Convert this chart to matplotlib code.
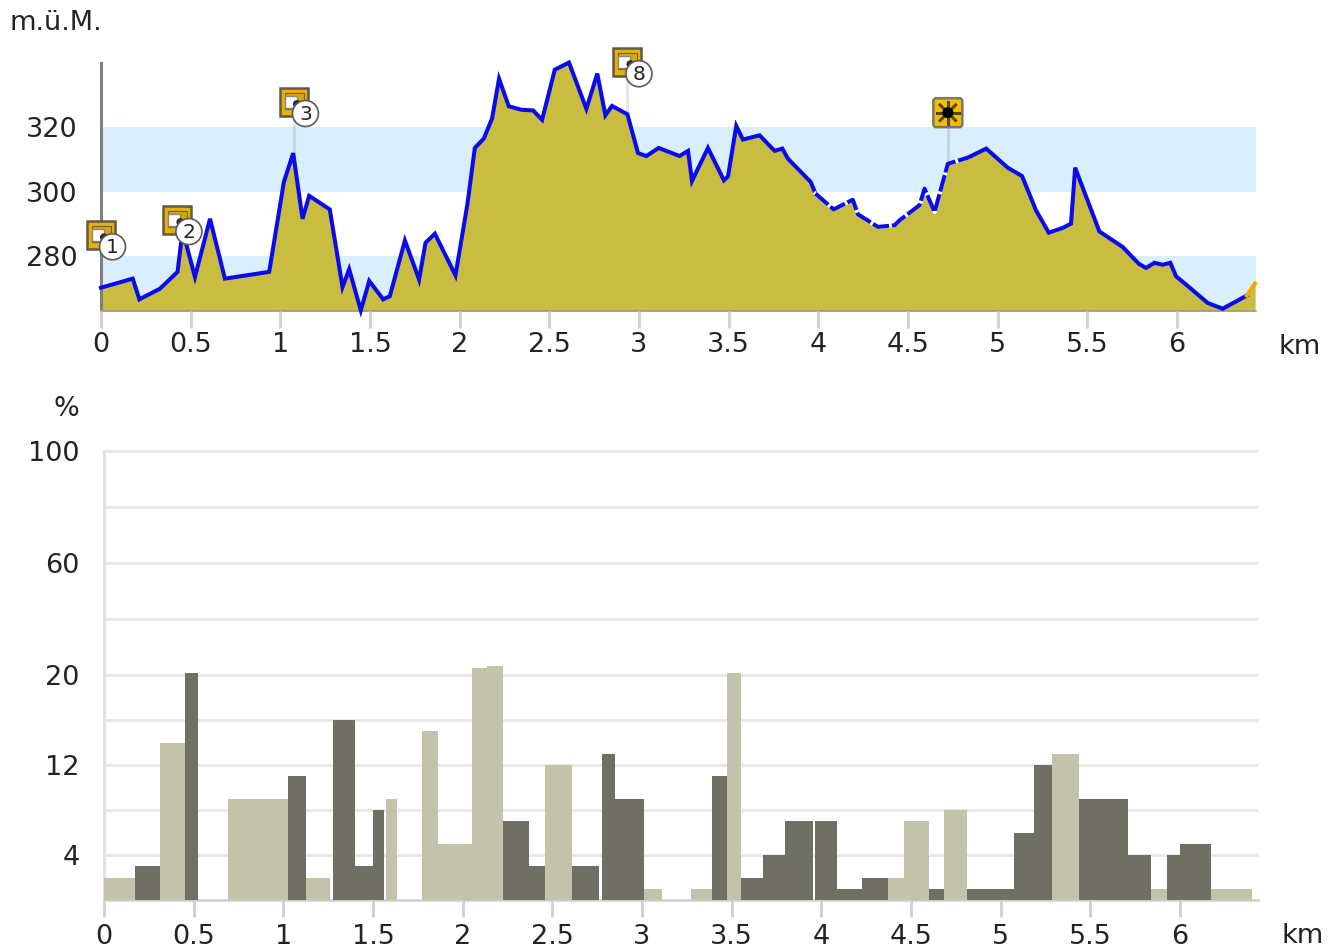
import numpy as np
import matplotlib
matplotlib.use('Agg')
import matplotlib.pyplot as plt
from matplotlib.patches import Rectangle, Circle, FancyBboxPatch
from matplotlib.transforms import IdentityTransform

# --------------------------------------------
# Data
# --------------------------------------------
profile_km = [0, 0.177, 0.214, 0.329, 0.427, 0.446, 0.455, 0.524, 0.608, 0.691, 0.938, 1.020, 1.072,
              1.124, 1.161, 1.276, 1.347, 1.384, 1.449, 1.496, 1.574, 1.611, 1.695, 1.774, 1.810,
              1.862, 1.977, 2.044, 2.085, 2.135, 2.181, 2.220, 2.274, 2.345, 2.410, 2.460, 2.531,
              2.610, 2.707, 2.768, 2.813, 2.850, 2.936, 2.995, 3.042, 3.110, 3.227, 3.274, 3.296,
              3.385, 3.474, 3.497, 3.543, 3.580, 3.673, 3.757, 3.800, 3.831, 3.958, 3.985, 4.086,
              4.193, 4.221, 4.333, 4.426, 4.453, 4.565, 4.593, 4.649, 4.723, 4.834, 4.937, 5.057,
              5.137, 5.215, 5.286, 5.364, 5.410, 5.433, 5.568, 5.698, 5.788, 5.828, 5.875, 5.921,
              5.964, 5.996, 6.051, 6.172, 6.256, 6.391, 6.436]
profile_m = [270.3, 273.1, 266.7, 270.0, 275.2, 283.9, 288.0, 273.6, 291.6, 273.1, 275.2, 303.0, 311.9,
             291.6, 298.7, 294.5, 270.5, 276.0, 263.3, 272.4, 266.7, 267.7, 284.9, 272.8, 284.2,
             287.0, 274.1, 296.3, 313.5, 316.4, 322.6, 334.9, 326.4, 325.3, 325.1, 322.2, 337.7,
             339.9, 325.6, 336.5, 323.6, 326.5, 323.9, 311.9, 311.0, 313.5, 311.0, 312.6, 303.3,
             313.5, 303.5, 304.7, 320.3, 316.1, 317.4, 312.6, 313.3, 310.2, 303.0, 299.4, 294.5,
             297.5, 293.0, 289.1, 289.6, 291.1, 295.8, 300.9, 293.7, 308.6, 310.5, 313.3, 307.4,
             304.8, 294.2, 287.3, 288.8, 290.1, 307.4, 287.7, 282.9, 277.7, 276.4, 278.0, 277.4,
             278.0, 273.8, 271.3, 265.6, 263.8, 267.9, 271.6]
dashed_from_km = 3.985
dashed_to_km = 4.834

km_ticks = [0, 0.5, 1, 1.5, 2, 2.5, 3, 3.5, 4, 4.5, 5, 5.5, 6]
km_labels = ['0', '0.5', '1', '1.5', '2', '2.5', '3', '3.5', '4', '4.5', '5', '5.5', '6']
elev_ticks = [280, 300, 320]
band_ranges = [(263.1, 280), (300, 320)]

photo_km = [0, 0.426, 1.076, 2.936]
photo_m = [286.5, 291.2, 327.7, 340.0]
photo_num = ['1', '2', '3', '8']
photo_stem_to = [None, None, 311.9, 323.9]
sun_km = 4.723
sun_m = 324.4
sun_stem_to = 308.6

bar_start = [0, 0.175, 0.312, 0.450, 0.690, 1.024, 1.125, 1.275, 1.400, 1.500, 1.575, 1.775, 1.863,
             2.051, 2.138, 2.223, 2.372, 2.461, 2.612, 2.776, 2.850, 3.012, 3.276, 3.389, 3.476,
             3.551, 3.675, 3.800, 3.964, 4.088, 4.226, 4.374, 4.464, 4.599, 4.687, 4.813, 5.075,
             5.187, 5.287, 5.438, 5.713, 5.838, 5.927, 6.001, 6.176]
bar_end = [0.175, 0.312, 0.450, 0.526, 1.024, 1.125, 1.260, 1.400, 1.500, 1.562, 1.636, 1.863, 2.051,
           2.138, 2.223, 2.372, 2.461, 2.612, 2.763, 2.850, 3.012, 3.112, 3.389, 3.476, 3.551,
           3.675, 3.800, 3.951, 4.088, 4.226, 4.374, 4.464, 4.599, 4.687, 4.813, 5.075, 5.187,
           5.287, 5.438, 5.713, 5.838, 5.927, 6.001, 6.176, 6.401]
bar_pct = [2, 3, 14, 20.8, 9, 11, 2, 16, 3, 8, 9, 15, 5,
           22.4, 23.2, 7, 3, 12, 3, 13, 9, 1, 1, 11, 20.8,
           2, 4, 7, 7, 1, 2, 2, 7, 1, 8, 1, 6,
           12, 13, 9, 4, 1, 4, 5, 1]
bar_kind = ['L', 'D', 'L', 'D', 'L', 'D', 'L', 'D', 'D', 'D', 'L', 'L', 'L',
            'L', 'L', 'D', 'D', 'L', 'D', 'D', 'D', 'L', 'L', 'D', 'L',
            'D', 'D', 'D', 'D', 'D', 'D', 'L', 'L', 'D', 'L', 'D', 'D',
            'D', 'L', 'D', 'D', 'L', 'D', 'D', 'L']
pct_major = [4, 12, 20, 60, 100]
pct_minor = [8, 16, 40, 80]

# --------------------------------------------
# Figure setup
# --------------------------------------------
W, H = 1338, 951
TEXT = '#232323'
plt.rcParams['font.family'] = 'DejaVu Sans'
plt.rcParams['font.size'] = 19.5

fig = plt.figure(figsize=(W / 100, H / 100), dpi=100, facecolor='white')


def axes_px(left, top, right, bottom):
    return fig.add_axes([left / W, (H - bottom) / H, (right - left) / W, (bottom - top) / H])


# --------------------------------------------
# 1) Elevation profile
# --------------------------------------------
ax = axes_px(101, 63, 1255.7, 311)
ax.set_xlim(0, 6.44)
ax.set_ylim(263.1, 339.76)

for low, high in band_ranges:
    ax.axhspan(low, high, color='#DAEFFD', lw=0, zorder=1)

x = np.array(profile_km)
y = np.array(profile_m)
ax.fill_between(x, y, 263.1, color='#C8BC41', lw=0, zorder=2)

ax.vlines(photo_km[2:], photo_stem_to[2:], photo_m[2:], color='black', alpha=0.1, lw=2.2, zorder=3)
ax.vlines(sun_km, sun_stem_to, sun_m, color='black', alpha=0.1, lw=2.2, zorder=3)

BLUE = '#0A0AF0'
a = np.searchsorted(x, dashed_from_km)
b = np.searchsorted(x, dashed_to_km)
line_kw = dict(lw=2.9, zorder=4, clip_on=False)
ax.plot(x[:a + 1], y[:a + 1], color=BLUE, solid_joinstyle='miter', **line_kw)
ax.plot(x[a:b + 1], y[a:b + 1], color='white', **line_kw)
ax.plot(x[a:b + 1], y[a:b + 1], color=BLUE, linestyle=(0, (4.2, 0.7)), dash_capstyle='butt', **line_kw)
ax.plot(x[b:-1], y[b:-1], color=BLUE, solid_joinstyle='miter', **line_kw)
ax.plot(x[-2:], y[-2:], color='#FFA500', **line_kw)

ax.set_xticks(km_ticks)
ax.set_xticklabels(km_labels)
ax.set_yticks(elev_ticks)
ax.tick_params(axis='x', length=12.2, width=2.2, color='#D2D2D2', labelcolor=TEXT, pad=3)
ax.tick_params(axis='y', length=0, labelcolor=TEXT, pad=17)
for s in ['top', 'right']:
    ax.spines[s].set_visible(False)
ax.spines['left'].set_color('#808080')
ax.spines['left'].set_linewidth(2.2)
ax.spines['bottom'].set_color('#9A9A9A')
ax.spines['bottom'].set_linewidth(1.2)
ax.set_axisbelow(False)

fig.text(9 / W, (H - 30) / H, 'm.ü.M.', color=TEXT, ha='left', va='baseline')
fig.text(1300 / W, (H - 354) / H, 'km', color=TEXT, ha='center', va='baseline')


# --------------------------------------------
# 2) Waypoint icons, drawn in pixels around each data point
# --------------------------------------------
def add_px(patch, z=6):
    patch.set_transform(IdentityTransform())
    patch.set_clip_on(False)
    patch.set_zorder(z)
    fig.add_artist(patch)


for km, m, num in zip(photo_km, photo_m, photo_num):
    cx, cy = ax.transData.transform((km, m))
    add_px(Rectangle((cx - 14, cy - 14), 28, 28, fc='#E8B000', ec='#5E5A48', lw=1.8))
    add_px(Rectangle((cx - 9, cy - 7), 19, 16, fc='#D7A60A', ec='#6A6238', lw=0.8))
    add_px(Rectangle((cx - 9, cy - 6), 12, 12, fc='white', ec='#8A8A80', lw=1))
    add_px(Circle((cx + 3, cy - 2), 4, fc='#2E2E2E', ec='none'))
    add_px(Circle((cx + 11.5, cy - 11.5), 13, fc='white', ec='#5A5A5A', lw=1.2))
    fig.text(cx + 11.5, cy - 12, num, transform=IdentityTransform(), ha='center', va='center',
             fontsize=14.5, color=TEXT, zorder=7)

cx, cy = ax.transData.transform((sun_km, sun_m))
add_px(FancyBboxPatch((cx - 13.5, cy - 13.5), 27, 27, boxstyle='round,pad=1,rounding_size=3',
                      fc='#F2BE00', ec='#7C7868', lw=1.8))
for ang in np.deg2rad(np.arange(0, 360, 45)):
    ray = plt.Line2D([cx, cx + 11 * np.cos(ang)], [cy, cy + 11 * np.sin(ang)], color='#5A4606', lw=2.2,
                     transform=IdentityTransform(), zorder=7)
    fig.add_artist(ray)
add_px(Circle((cx, cy), 5.5, fc='black', ec='none'), z=8)


# --------------------------------------------
# 3) Slope bars, axis is stretched below 20 %
# --------------------------------------------
def pct_to_px(v):
    return np.interp(v, [0, 20, 100], [0, 225, 449])


def px_to_pct(v):
    return np.interp(v, [0, 225, 449], [0, 20, 100])


ax2 = axes_px(104, 451, 1258.3, 900)
ax2.set_xlim(0, 6.437)
ax2.set_yscale('function', functions=(pct_to_px, px_to_pct))
ax2.set_ylim(0, 100)

colors = {'L': '#C3C3AB', 'D': '#6F6F63'}
for start, end, pct, kind in zip(bar_start, bar_end, bar_pct, bar_kind):
    ax2.bar(start, pct, width=end - start, align='edge', color=colors[kind], lw=0, zorder=3)

ax2.set_xticks(km_ticks)
ax2.set_xticklabels(km_labels)
ax2.set_yticks(pct_major)
ax2.set_yticks(pct_minor, minor=True)
ax2.set_yticklabels([str(v) for v in pct_major])
ax2.grid(axis='y', which='both', color='#E8E8E8', lw=2.2, zorder=1, clip_on=False, solid_capstyle='butt')
ax2.set_axisbelow(True)
ax2.tick_params(axis='x', length=12.2, width=2.2, color='#D2D2D2', labelcolor=TEXT, pad=5)
ax2.tick_params(axis='y', which='both', length=0, labelcolor=TEXT, pad=17.5)
for s in ['top', 'right']:
    ax2.spines[s].set_visible(False)
ax2.spines['left'].set_color('#E2E2E2')
ax2.spines['left'].set_linewidth(2.2)
ax2.spines['bottom'].set_color('#CFCFCF')
ax2.spines['bottom'].set_linewidth(1.8)

fig.text(66 / W, (H - 416) / H, '%', color=TEXT, ha='center', va='baseline')
fig.text(1303 / W, (H - 943) / H, 'km', color=TEXT, ha='center', va='baseline')

fig.savefig('out.png', dpi=100, facecolor='white')
